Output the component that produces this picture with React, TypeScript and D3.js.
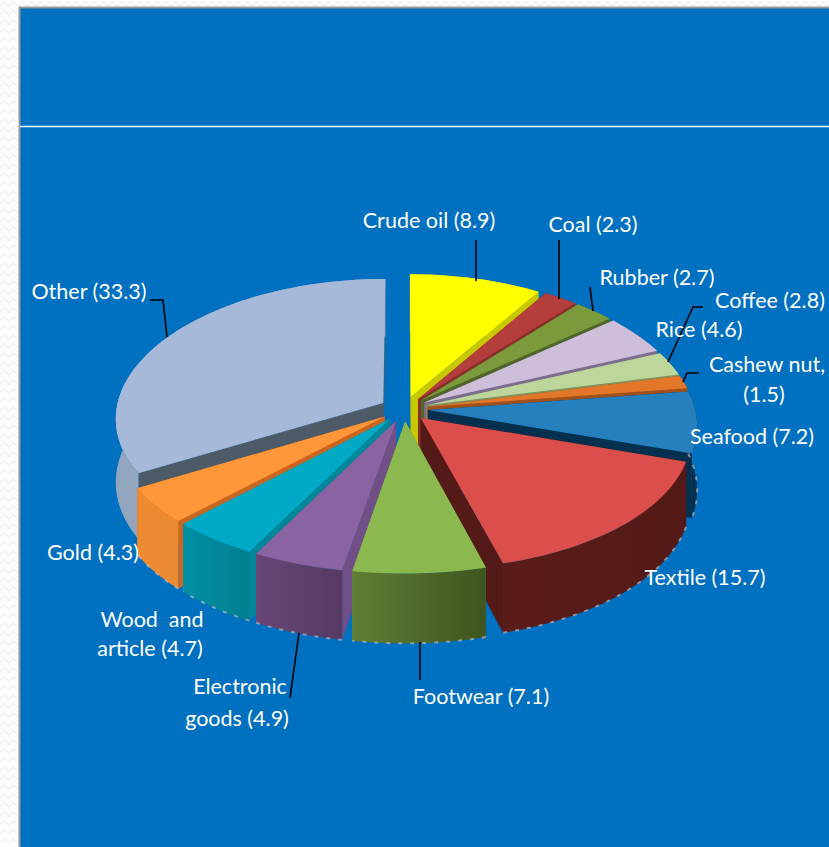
import React from "react";
import * as d3 from "d3";

// Share of export value by product group, clockwise from twelve o'clock.
const categories = ["Crude oil", "Coal", "Rubber", "Rice", "Coffee", "Cashew nut", "Seafood", "Textile", "Footwear", "Electronic goods", "Wood and article", "Gold", "Other"];
const shares = [8.9, 2.3, 2.7, 4.6, 2.8, 1.5, 7.2, 15.7, 7.1, 4.9, 4.7, 4.3, 33.3];

const topColors = ["#FFFF00", "#B33E3B", "#7A9A3C", "#CDBEDA", "#BCD69B", "#E2772A", "#2780BE", "#DB4E4C", "#8BB84F", "#8A63A2", "#00A9C6", "#FF963A", "#A6B9D8"];
const wallColors = ["#C8C800", "#8A2E2B", "#4F6628", "#7E6C8F", "#7D9460", "#A0501A", "#04304F", "#541A17", "#6F8F3C", "#6F4F85", "#00879A", "#C9661F", "#4D5B69"];
const sideLight = ["#C8C800", "#8A2E2B", "#4F6628", "#7E6C8F", "#7D9460", "#A0501A", "#04304F", "#5A1C18", "#5F7F35", "#684675", "#0090A5", "#EE8C34", "#93A6C0"];
const sideDark = ["#C8C800", "#8A2E2B", "#4F6628", "#7E6C8F", "#7D9460", "#A0501A", "#04304F", "#541A17", "#3E5520", "#563A63", "#00808F", "#EA8A30", "#93A6C0"];

// Label lines: text, x centre, baseline.
const labelRows: [string, number, number][] = [
  ["Crude oil (8.9)", 429, 228],
  ["Coal (2.3)", 593, 232],
  ["Rubber (2.7)", 657, 285],
  ["Coffee (2.8)", 770, 308],
  ["Rice (4.6)", 699, 337],
  ["Cashew nut,", 767, 372],
  ["(1.5)", 764, 402],
  ["Seafood (7.2)", 752, 444],
  ["Textile (15.7)", 705, 585],
  ["Footwear (7.1)", 481, 704],
  ["Electronic", 240, 694],
  ["goods (4.9)", 237, 726],
  ["Wood  and", 152, 627],
  ["article (4.7)", 150, 656],
  ["Gold (4.3)", 93, 560],
  ["Other (33.3)", 89, 299],
];

// Leader lines from the labels to their slices.
const leaders: [number, number][][] = [
  [[476, 240], [476, 281]],
  [[559, 240], [559, 299]],
  [[590, 287], [593, 311]],
  [[703, 307], [693, 307], [668, 362]],
  [[699, 373], [687, 373], [683, 382]],
  [[150, 300], [163, 300], [167, 337]],
  [[299, 633], [290, 698]],
  [[420, 642], [420, 680]],
];

const W = 829;
const H = 847;
const cx = 404;
const cy = 409;
const radius = 267;
const explode = 24;
const perspectiveX = 0.11;
const perspectiveY = 0.09;
const tilt = 0.51;
const depth = 63;

const project = (x: number, z: number, h = 0): [number, number] => {
  const sx = 1 / (1 - (perspectiveX * z) / radius);
  const sy = 1 / (1 - (perspectiveY * z) / radius);
  return [cx + x * sx, cy + z * tilt * sy + h * sy];
};

const line = d3.line<[number, number]>();

const arcs = d3.pie<number>().sort(null).value((d) => d)(shares);

const geometry = arcs.map((a, i) => {
  const mid = (a.startAngle + a.endAngle) / 2;
  const ox = explode * Math.sin(mid);
  const oz = -explode * Math.cos(mid);
  const steps = Math.max(6, Math.ceil((a.endAngle - a.startAngle) * 40));
  const angle = d3.scaleLinear().domain([0, steps]).range([a.startAngle, a.endAngle]);
  const rim = d3.range(steps + 1).map((k) => {
    const t = angle(k);
    return [ox + radius * Math.sin(t), oz - radius * Math.cos(t)] as [number, number];
  });
  const rimTop = rim.map(([x, z]) => project(x, z));
  const rimBottom = rim.map(([x, z]) => project(x, z, depth));
  const apexTop = project(ox, oz);
  const apexBottom = project(ox, oz, depth);
  const last = rim.length - 1;
  const walls = [
    [apexTop, rimTop[0], rimBottom[0], apexBottom],
    [apexTop, rimTop[last], rimBottom[last], apexBottom],
  ];
  const xs = rimBottom.map((p) => p[0]);
  return {
    i,
    mid,
    zOrder: -Math.cos(mid),
    top: [apexTop, ...rimTop],
    outer: [...rimTop, ...[...rimBottom].reverse()],
    walls,
    rimBottom,
    x0: d3.min(xs) as number,
    x1: d3.max(xs) as number,
  };
});

const paintOrder = [...geometry].sort((a, b) => a.zOrder - b.zOrder);

export default function App() {
  return (
    <svg
      width={W}
      height={H}
      viewBox={`0 0 ${W} ${H}`}
      style={{ position: "absolute", left: 0, top: 0, display: "block" }}
    >
      <defs>
        <pattern id="paper" width="18" height="9" patternUnits="userSpaceOnUse">
          <rect width="18" height="9" fill="#FDFDFD" />
          <path d="M0 6 L4.5 2 L9 6 L13.5 2 L18 6" fill="none" stroke="#F3F3F3" strokeWidth="1.4" />
        </pattern>
        {geometry.map((g) => (
          <linearGradient key={g.i} id={`side${g.i}`} gradientUnits="userSpaceOnUse" x1={g.x0} x2={g.x1} y1={0} y2={0}>
            <stop offset="0" stopColor={sideLight[g.i]} />
            <stop offset="1" stopColor={sideDark[g.i]} />
          </linearGradient>
        ))}
      </defs>

      <rect width={W} height={H} fill="url(#paper)" />
      <rect x={19} y={7} width={W - 19} height={H - 7} fill="#0070C0" />
      <path d="M19.5 847 V7.5 H829" fill="none" stroke="#999999" strokeWidth="2" />
      <line x1={20} x2={W} y1={126.5} y2={126.5} stroke="#FFFFFF" strokeWidth="1.4" />

      {paintOrder.map((g) => (
        <g key={g.i} aria-label={categories[g.i]}>
          {g.walls.map((w, k) => (
            <path key={k} d={line(w as [number, number][]) + "Z"} fill={wallColors[g.i]} />
          ))}
          <path d={line(g.outer as [number, number][]) + "Z"} fill={`url(#side${g.i})`} />
          {g.zOrder > 0 && g.i !== 12 ? (
            <path
              d={line(g.rimBottom as [number, number][]) ?? ""}
              fill="none"
              stroke="#CFC4C4"
              strokeWidth="2"
              strokeDasharray="4 8"
              opacity="0.6"
            />
          ) : null}
          <path d={line(g.top as [number, number][]) + "Z"} fill={topColors[g.i]} />
        </g>
      ))}

      {leaders.map((pts, i) => (
        <path key={i} d={line(pts) ?? ""} fill="none" stroke="#000000" strokeWidth="1.6" />
      ))}

      <g fontFamily="Lato, 'Open Sans', sans-serif" fontSize="21.5" fill="#FFFFFF" textAnchor="middle">
        {labelRows.map(([text, x, y]) => (
          <text key={text} x={x} y={y} xmlSpace="preserve">
            {text}
          </text>
        ))}
      </g>
    </svg>
  );
}
